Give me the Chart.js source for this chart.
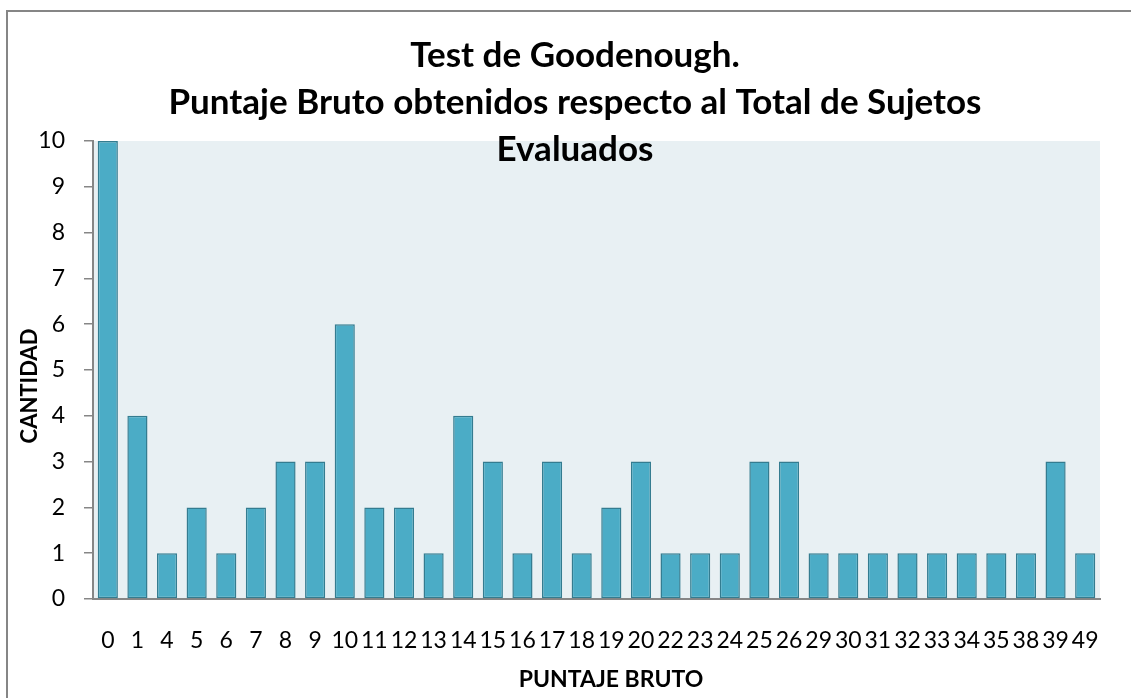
<!DOCTYPE html>
<html>
<head>
<meta charset="utf-8">
<script src="https://cdn.jsdelivr.net/npm/chart.js@4"></script>
<style>
  html, body { margin: 0; padding: 0; background: #ffffff; }
  #wrap { position: relative; width: 1131px; height: 698px; }
</style>
</head>
<body>
<div id="wrap"><canvas id="chart"></canvas></div>
<script>
// Puntaje bruto (categories) and cantidad de sujetos
const puntajes = ['0', '1', '4', '5', '6', '7', '8', '9', '10', '11', '12', '13', '14', '15', '16', '17', '18', '19', '20',
                  '22', '23', '24', '25', '26', '29', '30', '31', '32', '33', '34', '35', '38', '39', '49'];
const cantidad = [10, 4, 1, 2, 1, 2, 3, 3, 6, 2, 2, 1, 4, 3, 1, 3, 1, 2, 3,
                  1, 1, 1, 3, 3, 1, 1, 1, 1, 1, 1, 1, 1, 3, 1];
const titleLines = ['Test de Goodenough.', 'Puntaje Bruto obtenidos respecto al Total de Sujetos', 'Evaluados'];
const yTitle = 'CANTIDAD';
const xTitle = 'PUNTAJE BRUTO';

const FONT = 'Lato, "Open Sans", sans-serif';
const AXIS_GREY = '#868686';

// Background of plot area, outer frame and all the titles
const decorPlugin = {
    id: 'decor',
    beforeDraw(chart) {
        const { ctx, chartArea } = chart;
        ctx.save();
        ctx.fillStyle = '#E8F0F3';
        ctx.fillRect(chartArea.left, chartArea.top, chartArea.right - chartArea.left, chartArea.bottom - chartArea.top);
        // outer frame (runs off the right / bottom edge)
        ctx.strokeStyle = AXIS_GREY;
        ctx.lineWidth = 2;
        ctx.strokeRect(7, 11, 1300, 900);
        ctx.restore();
    },
    afterDraw(chart) {
        const { ctx } = chart;
        ctx.save();
        ctx.fillStyle = '#000000';
        ctx.textAlign = 'center';
        ctx.textBaseline = 'middle';
        ctx.font = 'bold 35px ' + FONT;
        titleLines.forEach((line, i) => ctx.fillText(line, 575, 56 + i * 47));

        ctx.font = 'bold 23px ' + FONT;
        ctx.fillText(xTitle, 611, 680);

        ctx.translate(30, 386);
        ctx.rotate(-Math.PI / 2);
        ctx.font = 'bold 22px ' + FONT;
        ctx.fillText(yTitle, 0, 0);
        ctx.restore();
    }
};

new Chart(document.getElementById('chart'), {
    type: 'bar',
    data: {
        labels: puntajes,
        datasets: [{
            data: cantidad,
            backgroundColor: '#4BACC6',
            borderColor: '#347C90',
            borderWidth: 1.5,
            borderSkipped: false,
            barPercentage: 0.68,
            categoryPercentage: 1.0
        }]
    },
    options: {
        responsive: true,
        maintainAspectRatio: false,
        animation: false,
        layout: {
            padding: { left: 0, right: 31, top: 141, bottom: 0 }
        },
        plugins: {
            legend: { display: false },
            tooltip: { enabled: false },
            title: { display: false }
        },
        scales: {
            x: {
                grid: { display: false, drawTicks: false },
                border: { display: true, color: AXIS_GREY, width: 2 },
                ticks: {
                    autoSkip: false,
                    maxRotation: 0,
                    minRotation: 0,
                    padding: 28,
                    color: '#000000',
                    font: { family: FONT, size: 23 }
                },
                afterFit(scale) { scale.height = 99; }
            },
            y: {
                min: 0,
                max: 10,
                grid: {
                    drawOnChartArea: false,
                    drawTicks: true,
                    tickLength: 9,
                    color: AXIS_GREY,
                    lineWidth: 1.5
                },
                border: { display: true, color: AXIS_GREY, width: 2 },
                ticks: {
                    stepSize: 1,
                    padding: 19,
                    color: '#000000',
                    font: { family: FONT, size: 23 }
                },
                afterFit(scale) { scale.width = 93; }
            }
        }
    },
    plugins: [decorPlugin]
});
</script>
</body>
</html>
